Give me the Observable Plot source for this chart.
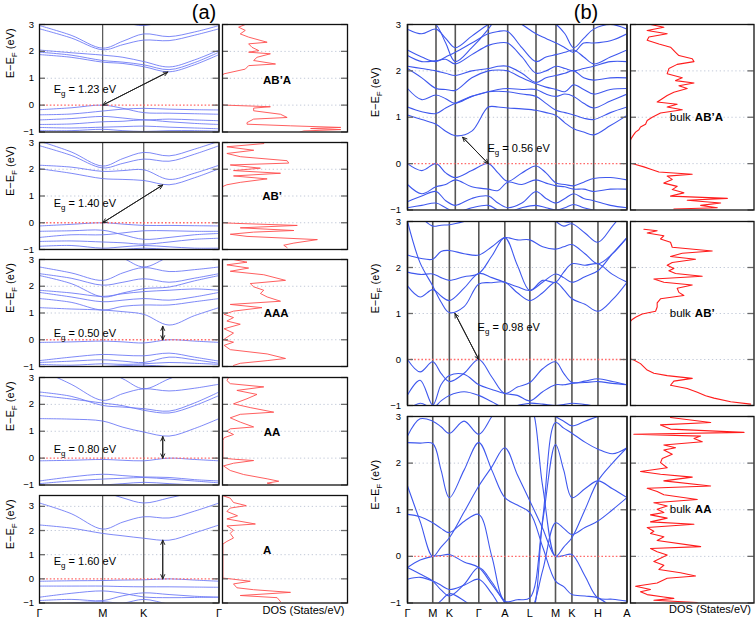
<!DOCTYPE html>
<html><head><meta charset="utf-8">
<script src="https://cdn.jsdelivr.net/npm/d3@7"></script>
<script src="https://cdn.jsdelivr.net/npm/@observablehq/plot@0.6"></script>
<style>
body{margin:0;background:#fff}
#fig{position:relative;width:756px;height:619px;overflow:hidden;background:#fff;font-family:"Liberation Sans",Arial,Helvetica,sans-serif}
#fig svg{position:absolute}
.ttl{position:absolute;font-size:20px;line-height:1;transform:translateX(-50%);color:#000}
</style></head><body><div id="fig"></div>
<script>
// ---------- k-paths ----------
const kA = [0, 0.5, 1, 1.32, 1.65, 2.05, 2.45, 2.84];
const symA = [0, 1, 1.65, 2.84];
const symLabelsA = ["Γ", "M", "K", "Γ"];
const kB1 = [0, 0.143, 0.285, 0.382, 0.478, 0.643, 0.808, 0.905, 1.002, 1.144, 1.285, 1.385, 1.485, 1.574, 1.662, 1.762, 1.862, 2.029, 2.195];
const symB1 = [0, 0.285, 0.478, 0.808, 1.002, 1.285, 1.485, 1.662, 1.862, 2.195];
const kB = [0, 0.126, 0.252, 0.335, 0.418, 0.565, 0.712, 0.842, 0.972, 1.097, 1.222, 1.35, 1.478, 1.56, 1.642, 1.772, 1.902, 2.047, 2.192];
const symB = [0, 0.252, 0.418, 0.712, 0.972, 1.222, 1.478, 1.642, 1.902, 2.192];
const symLabelsB = ["Γ", "M", "K", "Γ", "A", "L", "M", "K", "H", "A"];

// ---------- (a) band energies (eV) at kA ----------
const bandsA1 = [
  [2.96, 2.6, 2.12, 2.38, 2.65, 2.55, 2.72, 2.96],
  [2.84, 2.5, 2.06, 2.25, 2.42, 2.4, 2.6, 2.84],
  [2.05, 1.95, 1.86, 1.78, 1.62, 1.42, 1.68, 2.05],
  [1.97, 1.86, 1.66, 1.6, 1.5, 1.32, 1.58, 1.97],
  [1.88, 1.78, 1.6, 1.55, 1.43, 1.24, 1.5, 1.88],
  [3.5, 3.4, 3.3, 3.1, 2.96, 3.2, 3.4, 3.5],
  [-0.17, -0.1, 0.0, -0.12, -0.28, -0.3, -0.32, -0.34],
  [-0.36, -0.33, -0.22, -0.15, -0.12, -0.15, -0.17, -0.18],
  [-0.55, -0.5, -0.42, -0.48, -0.55, -0.52, -0.55, -0.58],
  [-0.72, -0.7, -0.62, -0.6, -0.55, -0.62, -0.68, -0.72],
  [-0.83, -0.85, -0.82, -0.8, -0.78, -0.82, -0.85, -0.88],
  [-0.95, -0.95, -0.9, -0.95, -0.98, -0.95, -0.95, -0.97]
];
const bandsA2 = [
  [3.05, 2.65, 2.12, 2.4, 2.63, 2.5, 2.75, 3.05],
  [2.88, 2.52, 2.05, 2.22, 2.38, 2.3, 2.56, 2.88],
  [2.15, 2.08, 1.92, 1.95, 1.98, 1.62, 1.85, 2.15],
  [2.02, 1.85, 1.65, 1.62, 1.58, 1.42, 1.68, 2.02],
  [-0.12, -0.06, 0.0, -0.05, -0.1, -0.1, -0.11, -0.12],
  [-0.32, -0.3, -0.28, -0.45, -0.62, -0.55, -0.45, -0.4],
  [-0.55, -0.45, -0.45, -0.38, -0.3, -0.3, -0.32, -0.32],
  [-0.7, -0.68, -0.72, -0.75, -0.8, -0.72, -0.62, -0.58],
  [-0.88, -0.85, -0.95, -0.9, -0.85, -0.9, -0.95, -0.95],
  [-1.0, -1.0, -1.05, -1.0, -0.95, -1.0, -1.05, -1.05]
];
const bandsA3 = [
  [2.72, 2.5, 2.22, 2.5, 2.7, 2.55, 2.62, 2.72],
  [2.47, 2.3, 2.04, 2.15, 2.28, 2.15, 2.3, 2.47],
  [2.4, 2.1, 1.6, 1.75, 1.91, 1.97, 2.2, 2.4],
  [1.77, 1.6, 1.42, 1.48, 1.54, 1.48, 1.6, 1.77],
  [1.85, 1.75, 1.62, 1.72, 1.8, 1.85, 1.9, 1.85],
  [1.54, 1.4, 1.11, 1.25, 1.3, 1.3, 1.42, 1.54],
  [1.2, 1.15, 1.11, 1.05, 0.95, 0.55, 0.9, 1.2],
  [3.5, 3.4, 3.3, 3.05, 2.72, 3.1, 3.4, 3.5],
  [-0.1, -0.08, -0.05, -0.08, -0.12, 0.0, -0.05, -0.1],
  [-0.78, -0.65, -0.55, -0.58, -0.6, -0.5, -0.65, -0.8],
  [-0.85, -0.8, -0.75, -0.8, -0.85, -0.65, -0.75, -0.88],
  [-0.92, -0.95, -0.9, -0.92, -0.9, -0.85, -0.88, -0.92],
  [-1.1, -1.05, -1.0, -0.97, -0.95, -1.0, -1.05, -1.1]
];
const bandsA4 = [
  [3.3, 2.75, 2.15, 2.4, 2.58, 2.5, 2.6, 2.75],
  [2.46, 2.3, 1.96, 1.9, 1.84, 1.75, 2.05, 2.46],
  [2.33, 2.2, 2.05, 1.95, 1.78, 1.68, 1.95, 2.33],
  [1.47, 1.45, 1.38, 1.15, 0.97, 0.82, 1.1, 1.47],
  [3.6, 3.5, 3.3, 2.95, 2.58, 2.95, 3.3, 3.6],
  [-0.1, -0.08, -0.05, -0.08, -0.1, 0.0, -0.05, -0.1],
  [-0.85, -0.7, -0.6, -0.65, -0.7, -0.72, -0.8, -0.85],
  [-0.95, -0.85, -0.78, -0.75, -0.72, -0.78, -0.85, -0.92],
  [-1.1, -1.05, -1.0, -0.95, -0.9, -0.95, -1.0, -1.05]
];
const bandsA5 = [
  [3.14, 2.7, 2.06, 2.35, 2.57, 2.52, 2.8, 3.14],
  [2.23, 2.1, 1.88, 1.78, 1.68, 1.6, 1.9, 2.23],
  [3.9, 3.8, 3.6, 3.35, 3.14, 3.35, 3.6, 3.9],
  [-0.1, -0.08, -0.07, -0.05, -0.04, 0.0, -0.05, -0.1],
  [-0.3, -0.3, -0.3, -0.32, -0.33, -0.33, -0.34, -0.35],
  [-0.76, -0.6, -0.5, -0.6, -0.75, -0.78, -0.77, -0.76],
  [-0.9, -0.85, -0.9, -0.7, -0.58, -0.65, -0.72, -0.76],
  [-1.1, -1.0, -0.95, -1.0, -0.85, -1.05, -1.2, -1.2]
];

// ---------- (b) band energies (eV) ----------
const bandsB1 = [
  [1.05, 0.95, 0.85, 0.7, 0.6, 0.7, 1.22, 1.22, 1.2, 1.18, 1.15, 1.1, 1.04, 0.88, 0.75, 0.68, 0.62, 0.82, 1.04],
  [1.22, 1.12, 1.08, 1.2, 1.3, 1.45, 1.55, 1.56, 1.55, 1.5, 1.45, 1.3, 1.15, 1.1, 1.05, 0.98, 0.95, 1.1, 1.22],
  [1.62, 1.38, 1.48, 1.4, 1.3, 1.45, 1.55, 1.6, 1.62, 1.6, 1.6, 1.5, 1.45, 1.5, 1.45, 1.3, 1.2, 1.35, 1.5],
  [2.05, 1.85, 1.62, 1.6, 1.58, 1.85, 2.0, 2.02, 2.0, 1.85, 1.72, 1.65, 1.6, 1.55, 1.7, 1.6, 1.5, 1.6, 1.62],
  [2.1, 2.05, 2.0, 1.95, 1.9, 2.0, 2.05, 2.1, 2.1, 1.95, 1.75, 1.85, 1.9, 1.95, 2.0, 1.85, 1.8, 1.85, 1.85],
  [2.33, 2.2, 2.22, 2.25, 2.15, 2.35, 2.55, 2.6, 2.6, 2.3, 1.95, 2.0, 2.1, 2.05, 2.0, 2.05, 2.1, 2.2, 2.2],
  [2.45, 2.3, 2.2, 2.3, 2.4, 2.6, 2.8, 2.85, 2.85, 2.5, 2.2, 2.3, 2.35, 2.4, 2.45, 2.3, 2.15, 2.3, 2.45],
  [2.9, 2.8, 2.9, 2.7, 2.5, 2.75, 3.0, 3.1, 3.2, 3.0, 2.8, 2.7, 2.6, 2.5, 2.4, 2.6, 2.6, 2.65, 2.8],
  [3.3, 3.2, 3.0, 2.6, 2.2, 2.5, 2.9, 3.2, 3.4, 3.3, 3.2, 3.1, 3.0, 2.8, 2.5, 2.7, 2.9, 3.0, 2.9],
  [0.0, -0.15, 0.0, -0.2, -0.3, -0.15, 0.0, -0.2, -0.38, -0.2, -0.05, -0.2, -0.42, -0.45, -0.48, -0.4, -0.32, -0.3, -0.35],
  [-0.45, -0.65, -0.5, -0.45, -0.35, -0.5, -0.55, -0.58, -0.4, -0.45, -0.35, -0.42, -0.48, -0.5, -0.55, -0.55, -0.6, -0.55, -0.55],
  [-0.82, -0.7, -0.6, -0.8, -0.9, -0.75, -0.7, -0.85, -0.95, -0.85, -0.6, -0.75, -0.85, -0.75, -0.65, -0.75, -0.8, -0.9, -0.95],
  [-0.95, -0.9, -0.85, -0.95, -1.05, -0.95, -0.9, -1.0, -1.05, -0.95, -0.9, -0.95, -1.0, -0.95, -0.88, -0.95, -1.0, -1.05, -1.05]
];
const bandsB2 = [
  [3.0, 2.1, 1.6, 1.25, 1.02, 1.15, 1.64, 1.67, 1.68, 1.45, 1.28, 1.45, 1.68, 1.52, 1.32, 1.2, 1.05, 1.3, 1.68],
  [1.6, 1.36, 1.52, 1.38, 1.28, 1.55, 1.87, 1.78, 1.68, 1.58, 1.5, 1.68, 1.86, 1.78, 1.68, 1.8, 1.93, 2.3, 2.65],
  [1.9, 1.85, 1.86, 1.78, 1.72, 1.8, 1.87, 2.25, 2.65, 2.05, 1.5, 1.72, 1.68, 1.9, 2.08, 2.05, 2.08, 1.85, 1.68],
  [2.27, 2.2, 2.18, 2.35, 2.37, 2.3, 2.27, 2.45, 2.65, 2.6, 2.6, 2.45, 2.4, 2.45, 2.5, 2.3, 2.08, 2.3, 2.65],
  [3.3, 3.1, 2.9, 2.92, 2.93, 3.0, 3.1, 3.3, 3.5, 3.4, 3.3, 3.1, 3.0, 2.9, 2.95, 2.75, 2.55, 2.9, 3.3],
  [3.6, 3.4, 3.2, 3.1, 3.0, 3.2, 3.5, 3.6, 3.7, 3.6, 3.5, 3.3, 3.1, 3.0, 3.0, 3.2, 3.4, 3.5, 3.6],
  [0.0, -0.27, -0.05, -0.3, -0.48, -0.3, 0.0, -0.38, -0.74, -0.6, -0.5, -0.2, -0.05, -0.3, -0.5, -0.47, -0.42, -0.48, -0.55],
  [-0.77, -0.45, -0.99, -0.55, -0.35, -0.32, -0.55, -0.65, -0.74, -0.78, -0.9, -0.7, -0.55, -0.55, -0.52, -0.5, -0.48, -0.52, -0.55],
  [-1.1, -0.95, -1.05, -0.9, -0.78, -0.7, -0.78, -0.92, -1.05, -1.0, -0.95, -0.97, -1.0, -0.98, -0.95, -0.98, -1.02, -1.05, -1.1]
];
const bandsB3 = [
  [2.58, 2.95, 2.9, 2.78, 2.64, 2.9, 2.62, 3.0, 3.4, 3.4, 3.4, 3.2, 3.0, 2.9, 2.8, 2.9, 3.0, 3.1, 3.2],
  [2.44, 2.43, 2.42, 1.85, 1.26, 1.85, 2.44, 1.85, 1.26, 1.1, 0.94, 0.2, -0.53, -0.65, -0.82, -0.85, -0.89, -1.1, -1.3],
  [1.51, 0.75, 0.0, 0.2, 0.4, 0.95, 1.51, 1.92, 2.33, 1.75, 1.19, 0.6, 0.0, 0.02, 0.04, -0.42, -0.89, -0.92, -0.96],
  [0.9, 0.85, 0.72, 0.6, 0.51, 0.75, 0.9, 0.0, -0.96, -0.93, -0.89, 0.75, 2.4, 1.85, 1.26, 1.45, 1.62, 1.45, 1.26],
  [-0.24, -0.08, 0.0, 0.02, 0.04, -0.12, -0.24, -0.6, -0.96, -1.15, -1.3, 0.8, 2.87, 2.75, 2.64, 2.45, 2.3, 2.2, 2.33],
  [-0.49, -0.45, -0.53, -0.62, -0.71, -0.62, -0.49, -0.8, -1.2, -1.3, -1.4, -1.4, -1.3, -1.3, -1.3, -1.3, -1.3, -1.3, -1.3],
  [-0.24, -0.38, -0.53, -0.72, -0.85, -0.6, -0.24, -0.55, -1.0, -1.3, -1.4, -1.4, -1.4, -1.4, -1.4, -1.4, -1.4, -1.4, -1.4],
  [-1.4, -1.4, -1.3, -1.2, -1.1, -1.2, -1.4, -1.4, -1.4, -1.3, -1.2, -0.3, 0.72, 0.6, 0.47, 0.62, 0.76, 1.0, 1.26],
  [3.6, 3.6, 3.6, 3.6, 3.6, 3.6, 3.6, 3.6, 3.6, 3.5, 3.3, 1.5, 0.0, 0.2, 0.4, 1.0, 1.62, 2.0, 2.33],
  [-1.4, -1.2, -1.1, -0.95, -0.8, -0.95, -1.2, -1.4, -1.5, -1.5, -1.5, -1.4, -1.3, -1.2, -1.1, -1.2, -1.3, -1.4, -1.5]
];

// ---------- DOS curves: energy (eV) and DOS (arb., 0–10 across panel) ----------
const dosEA1 = [3.0, 2.9, 2.78, 2.65, 2.53, 2.34, 2.28, 2.15, 2.03, 1.97, 1.91, 1.78, 1.66, 1.53, 1.47, 1.34, 1.16, 1.1, 0.02, 0.0, -0.06, -0.11, -0.21, -0.34, -0.46, -0.52, -0.65, -0.71, -0.77, -0.83, -0.87, -0.91, -0.96, -1.0];
const dosA1 = [1.82, 1.29, 1.82, 1.42, 2.09, 3.57, 2.09, 2.36, 2.9, 2.09, 3.83, 2.76, 2.49, 4.24, 2.09, 1.82, 0.08, 0, 0, 0.2, 3.83, 2.49, 2.49, 4.64, 5.17, 2.49, 1.96, 1.96, 5.44, 9.46, 7.05, 9.46, 6.51, 6.2];
const dosEA2 = [2.96, 2.84, 2.71, 2.59, 2.47, 2.32, 2.23, 2.16, 2.04, 1.95, 1.85, 1.75, 1.64, 1.51, 1.42, 1.35, 0.0, -0.02, -0.1, -0.19, -0.29, -0.35, -0.43, -0.51, -0.63, -0.76, -0.84, -0.93];
const dosA2 = [3.3, 0.35, 2.5, 0.35, 1.42, 5.17, 5.3, 0.62, 3.03, 0.88, 4.64, 0.88, 3.57, 1.42, 0.35, 0, 0, 0.88, 5.98, 1.42, 5.71, 2.49, 0.62, 1.96, 7.59, 5.71, 4.9, 5.17];
const dosEA3 = [3.0, 2.9, 2.8, 2.68, 2.56, 2.43, 2.22, 2.1, 1.98, 1.85, 1.73, 1.6, 1.44, 1.32, 1.2, 1.07, 0.95, 0.83, 0.7, 0.58, 0.41, 0.25, 0.09, 0.0, -0.09, -0.21, -0.37, -0.53, -0.7, -0.78, -0.88, -0.96];
const dosA3 = [0.88, 1.96, 0.35, 2.09, 0.62, 3.3, 5.04, 2.22, 2.49, 3.3, 3.03, 3.57, 4.64, 0.62, 3.16, 0.88, 0.13, 0.88, 0.35, 1.42, 0.13, 0.88, 0.35, 0.08, 0.88, 0.13, 0.62, 3.57, 5.04, 3.57, 1.42, 0.88];
const dosEA4 = [3.0, 2.89, 2.77, 2.65, 2.52, 2.37, 2.21, 2.02, 1.88, 1.71, 1.63, 1.5, 1.34, 1.16, 1.09, 1.0, 0.88, 0.76, 0.66, 0.0, -0.04, -0.09, -0.19, -0.29, -0.46, -0.61, -0.77, -0.86, -0.93, -0.99];
const dosA4 = [0.5, 0.35, 0.62, 3.3, 1.15, 2.76, 1.96, 0.88, 2.22, 4.1, 1.42, 0.62, 1.42, 2.49, 0.62, 0.35, 0.88, 0.13, 0.03, 0.03, 0.88, 2.49, 0.88, 0.08, 0.62, 1.69, 3.57, 4.5, 3.57, 4.1];
const dosEA5 = [3.44, 3.34, 3.16, 3.03, 2.93, 2.79, 2.61, 2.48, 2.27, 2.19, 2.02, 1.88, 1.69, 1.55, 1.44, 0.03, 0.0, -0.1, -0.21, -0.37, -0.45, -0.56, -0.69, -0.78, -0.94, -1.0];
const dosA5 = [0.03, 0.62, 0.88, 1.9, 0.62, 0.35, 1.2, 0.35, 2.63, 0.35, 0.88, 0.62, 0.88, 0.35, 0.03, 0.03, 0.62, 2.22, 0.88, 1.15, 2.49, 5.44, 1.42, 4.37, 4.64, 4.5];
const dosEB1 = [3.0, 2.94, 2.87, 2.8, 2.73, 2.66, 2.58, 2.51, 2.4, 2.33, 2.26, 2.2, 2.14, 2.05, 1.94, 1.85, 1.79, 1.74, 1.68, 1.62, 1.54, 1.47, 1.4, 1.33, 1.28, 1.22, 1.16, 1.09, 1.0, 0.93, 0.85, 0.79, 0.73, 0.68, 0.61, 0.54, 0.5, 0.01, -0.01, -0.07, -0.13, -0.18, -0.23, -0.27, -0.34, -0.42, -0.49, -0.56, -0.63, -0.7, -0.75, -0.79, -0.85, -0.9, -0.95, -0.98];
const dosB1 = [1.62, 2.7, 1.35, 2.97, 1.49, 1.35, 2.3, 3.24, 3.65, 3.92, 5.0, 5.14, 3.78, 3.11, 2.97, 4.19, 3.65, 5.14, 3.92, 4.59, 3.51, 2.97, 2.57, 2.16, 3.78, 2.97, 4.19, 2.43, 1.76, 1.35, 1.22, 0.81, 0.68, 0.41, 0.22, 0.05, 0, 0, 0.27, 1.08, 1.76, 2.3, 5.0, 2.97, 3.38, 2.7, 3.78, 3.38, 4.32, 3.24, 7.84, 4.59, 7.3, 5.68, 7.03, 3.51];
const dosEB2 = [2.83, 2.8, 2.75, 2.69, 2.62, 2.55, 2.44, 2.36, 2.31, 2.24, 2.18, 2.11, 2.05, 1.98, 1.93, 1.87, 1.81, 1.75, 1.68, 1.62, 1.55, 1.46, 1.39, 1.32, 1.23, 1.14, 1.05, 0.99, 0.92, 0.87, 0.83, 0.01, -0.01, -0.09, -0.16, -0.23, -0.3, -0.35, -0.41, -0.47, -0.56, -0.63, -0.71, -0.79, -0.84, -0.92, -0.97];
const dosB2 = [1.08, 2.16, 1.35, 2.7, 2.43, 3.24, 3.38, 6.62, 4.19, 3.24, 5.27, 3.38, 2.97, 3.51, 3.11, 3.65, 5.81, 1.89, 2.7, 5.0, 3.78, 3.92, 4.32, 2.43, 2.16, 2.16, 2.03, 0.95, 0.41, 0.14, 0, 0, 0.27, 0.81, 1.08, 1.35, 1.89, 2.97, 5.0, 3.51, 3.24, 4.59, 5.41, 6.08, 6.76, 8.11, 9.73];
const dosEB3 = [2.98, 2.87, 2.82, 2.73, 2.66, 2.62, 2.58, 2.53, 2.46, 2.39, 2.33, 2.28, 2.19, 2.1, 2.01, 1.9, 1.82, 1.76, 1.7, 1.62, 1.51, 1.46, 1.39, 1.32, 1.22, 1.15, 1.08, 1.01, 0.94, 0.89, 0.82, 0.74, 0.69, 0.62, 0.54, 0.49, 0.42, 0.34, 0.21, 0.17, 0.1, 0.03, -0.04, -0.11, -0.19, -0.28, -0.35, -0.42, -0.47, -0.57, -0.64, -0.71, -0.76, -0.82, -0.87, -0.9, -0.94, -0.99];
const dosB3 = [3.24, 6.49, 2.43, 3.24, 9.19, 0.27, 5.68, 5.14, 5.81, 2.7, 3.65, 2.7, 3.38, 2.57, 2.43, 2.97, 0.81, 2.43, 5.0, 2.7, 6.49, 1.35, 2.16, 2.7, 5.41, 1.89, 2.97, 2.16, 2.7, 1.62, 2.97, 1.62, 5.14, 1.35, 1.89, 1.62, 2.7, 2.16, 5.68, 1.62, 2.16, 2.97, 2.43, 1.89, 2.7, 2.3, 4.05, 5.27, 2.97, 2.16, 0.41, 1.62, 0.81, 1.35, 2.7, 3.51, 1.89, 5.41];

// ---------- labels and gap annotations ----------
const stackA = ["AB’A", "AB’", "AAA", "AA", "A"];
const stackB = ["AB’A", "AB’", "AA"];
const gapA = [
  {text: "E_g = 1.23 eV", tx: 0.225, ty: 0.6, x1: 1, y1: 0, x2: 2.03, y2: 1.23},
  {text: "E_g = 1.40 eV", tx: 0.225, ty: 0.73, x1: 1, y1: 0, x2: 1.95, y2: 1.41},
  {text: "E_g = 0.50 eV", tx: 0.225, ty: 0.25, x1: 1.95, y1: 0, x2: 1.95, y2: 0.5},
  {text: "E_g = 0.80 eV", tx: 0.225, ty: 0.31, x1: 1.95, y1: 0, x2: 1.95, y2: 0.8},
  {text: "E_g = 1.60 eV", tx: 0.225, ty: 0.72, x1: 1.95, y1: 0, x2: 1.95, y2: 1.6}
];
const gapB = [
  {text: "E_g = 0.56 eV", tx: 0.8, ty: 0.32, x1: 0.808, y1: 0, x2: 0.551, y2: 0.57},
  {text: "E_g = 0.98 eV", tx: 0.7, ty: 0.69, x1: 0.712, y1: 0, x2: 0.474, y2: 1.0},
  null
];
const labelPosA = [[4.37, 0.91], [3.97, 0.99], [4.29, 0.98], [3.97, 0.97], [3.57, 1.2]];

// ---------- layout (pixels) ----------
const colA = {bandLeft: 38.5, bandW: 179.5, dosLeft: 222, dosW: 125, labelDx: -29.5, pad: 5.5};
const colB = {bandLeft: 406.5, bandW: 219.5, dosLeft: 630, dosW: 123.5, labelDx: -32.5, pad: 6.5};
const rowsA = [{top: 24, h: 107.5}, {top: 142, h: 107}, {top: 259, h: 107}, {top: 377, h: 107.5}, {top: 495, h: 107.5}];
const rowsB = [{top: 24, h: 185.5}, {top: 220.5, h: 184}, {top: 415.5, h: 186.5}];

const FONT = '"Liberation Sans", Arial, Helvetica, sans-serif';
const fig = document.getElementById("fig");
const NS = "http://www.w3.org/2000/svg";

const minusFmt = d => d < 0 ? "\u2212" + Math.abs(d) : String(d);
const tidy = (ks, bands) => bands.flatMap((b, i) => b.map((E, j) => ({k: ks[j], E, band: i})));
const zipDos = (Es, Ds) => Es.map((E, i) => ({E, d: Ds[i]}));

function subscripts(svg) {
  for (const t of svg.querySelectorAll("text")) {
    const s = t.textContent;
    if (!s.includes("_")) continue;
    const parts = s.split(/_(.)/);
    t.textContent = "";
    parts.forEach((p, i) => {
      if (p === "") return;
      const ts = document.createElementNS(NS, "tspan");
      ts.textContent = p;
      if (i % 2 === 1) { ts.setAttribute("dy", "3"); ts.setAttribute("font-size", "8"); }
      else if (i > 0) ts.setAttribute("dy", "-3");
      t.appendChild(ts);
    });
  }
}

function place(svg, left, top) {
  svg.style.left = left + "px";
  svg.style.top = top + "px";
  subscripts(svg);
  fig.appendChild(svg);
}

function bandPanel(col, row, o) {
  const mL = 42, mT = 3, mR = 3, mB = o.bottom ? 22 : 3;
  const marks = [
    Plot.ruleY(o.grid, {stroke: "#c2c9d8", strokeDasharray: "1.3,2.6", strokeWidth: 1}),
    Plot.ruleX(o.sym, {stroke: o.vColor, strokeWidth: o.vWidth}),
    Plot.line(tidy(o.ks, o.bands), {x: "k", y: "E", z: "band", curve: "catmull-rom", stroke: o.color, strokeWidth: o.lw, clip: true}),
    Plot.ruleY([0], {stroke: "#ff6a6a", strokeDasharray: "1.6,2", strokeWidth: 1.4}),
    Plot.tickY(o.yTicks, {stroke: "#6a6a6a", strokeWidth: 1.3, insetRight: col.bandW - 6}),
    Plot.tickY(o.yTicks, {stroke: "#6a6a6a", strokeWidth: 1.3, insetLeft: col.bandW - 6}),
    Plot.frame({stroke: "#111", strokeWidth: 1.3}),
    Plot.text(["E\u2212E_F (eV)"], {frameAnchor: "left", rotate: -90, dx: col.labelDx, fontSize: 11})
  ];
  if (o.gap) {
    const g = o.gap;
    const arrows = [g, {x1: g.x2, y1: g.y2, x2: g.x1, y2: g.y1}];
    marks.push(Plot.arrow(arrows, {x1: "x1", y1: "y1", x2: "x2", y2: "y2", stroke: "#222", strokeWidth: 1, headLength: 7, headAngle: 50}));
    marks.push(Plot.text([g], {x: "tx", y: "ty", text: "text", textAnchor: "start", fontSize: 11, fill: "#000"}));
  }
  const svg = Plot.plot({
    width: mL + col.bandW + mR, height: mT + row.h + mB,
    marginLeft: mL, marginTop: mT, marginRight: mR, marginBottom: mB,
    style: {background: "transparent", fontFamily: FONT, fontSize: "9.5px", overflow: "visible", color: "#000"},
    x: {domain: [o.sym[0], o.sym[o.sym.length - 1]], axis: o.bottom ? "bottom" : null, ticks: o.sym,
        tickFormat: d => o.symLabels[o.sym.indexOf(d)], tickSize: 0, tickPadding: 6, label: null},
    y: {domain: o.yDomain, ticks: o.yTicks, tickFormat: minusFmt, tickSize: 0, tickPadding: col.pad, label: null},
    marks
  });
  if (o.bottom) svg.querySelectorAll("[aria-label='x-axis tick label'] text, g[aria-label='x-axis'] text").forEach(t => t.setAttribute("font-size", "11"));
  place(svg, col.bandLeft - mL, row.top - mT);
}

function dosPanel(col, row, o) {
  const mL = 3, mT = 3, mR = 3, mB = o.bottom ? 22 : 3;
  const marks = [
    Plot.ruleY(o.grid, {stroke: "#c2c9d8", strokeDasharray: "1.3,2.6", strokeWidth: 1}),
    Plot.line(o.dos, {x: "d", y: "E", stroke: o.color, strokeWidth: o.lw, clip: true}),
    Plot.tickY(o.yTicks, {stroke: "#6a6a6a", strokeWidth: 1.3, insetRight: col.dosW - 6}),
    Plot.tickY(o.yTicks, {stroke: "#6a6a6a", strokeWidth: 1.3, insetLeft: col.dosW - 6}),
    Plot.frame({stroke: "#111", strokeWidth: 1.3})
  ];
  if (o.bulk) {
    marks.push(Plot.text(["bulk"], {x: () => o.lx, y: () => o.ly, textAnchor: "end", dx: -2, fontSize: 11.5, fill: "#000"}));
    marks.push(Plot.text([o.label], {x: () => o.lx, y: () => o.ly, textAnchor: "start", dx: 2, fontSize: 11.5, fontWeight: "bold", fill: "#000"}));
  } else {
    marks.push(Plot.text([o.label], {x: () => o.lx, y: () => o.ly, fontSize: 11.5, fontWeight: "bold", fill: "#000"}));
  }
  if (o.bottom) {
    marks.push(Plot.text(["DOS (States/eV)"], {frameAnchor: "bottom-right", textAnchor: "end", dx: -3, dy: o.dosDy, fontSize: 11, fill: "#000"}));
  }
  const svg = Plot.plot({
    width: mL + col.dosW + mR, height: mT + row.h + mB,
    marginLeft: mL, marginTop: mT, marginRight: mR, marginBottom: mB,
    style: {background: "transparent", fontFamily: FONT, fontSize: "10.5px", overflow: "visible", color: "#000"},
    x: {domain: [0, 10], axis: null},
    y: {domain: o.yDomain, axis: null},
    marks
  });
  place(svg, col.dosLeft - mL, row.top - mT);
}

// ---------- column (a) ----------
const bandsAll = [bandsA1, bandsA2, bandsA3, bandsA4, bandsA5];
const dosAllA = [zipDos(dosEA1, dosA1), zipDos(dosEA2, dosA2), zipDos(dosEA3, dosA3), zipDos(dosEA4, dosA4), zipDos(dosEA5, dosA5)];
rowsA.forEach((row, i) => {
  const last = i === rowsA.length - 1;
  const yDomain = last ? [-1, 3.45] : [-1, 3];
  const yTicks = [-1, 0, 1, 2, 3];
  bandPanel(colA, row, {ks: kA, bands: bandsAll[i], sym: symA, symLabels: symLabelsA, yDomain, yTicks,
    grid: last ? [1, 2, 3] : [1, 2], color: "#6f7cf6", lw: 0.9, vColor: "#333", vWidth: 1, gap: gapA[i], bottom: last});
  dosPanel(colA, row, {dos: dosAllA[i], yDomain, yTicks, grid: last ? [0, 1, 2, 3] : [0, 1, 2],
    color: "#ff4d4d", lw: 0.9, label: stackA[i], lx: labelPosA[i][0], ly: labelPosA[i][1], bottom: last, dosDy: 11});
});

// ---------- column (b) ----------
const bandsAllB = [bandsB1, bandsB2, bandsB3];
const ksB = [kB1, kB, kB];
const symsB = [symB1, symB, symB];
const dosAllB = [zipDos(dosEB1, dosB1), zipDos(dosEB2, dosB2), zipDos(dosEB3, dosB3)];
rowsB.forEach((row, i) => {
  const last = i === rowsB.length - 1;
  const yDomain = [-1, 3], yTicks = [-1, 0, 1, 2, 3];
  bandPanel(colB, row, {ks: ksB[i], bands: bandsAllB[i], sym: symsB[i], symLabels: symLabelsB, yDomain, yTicks,
    grid: [1, 2], color: "#3f58ee", lw: 1.1, vColor: "#555", vWidth: 1.6, gap: gapB[i], bottom: last});
  dosPanel(colB, row, {dos: dosAllB[i], yDomain, yTicks, grid: [0, 1, 2],
    color: "#ff1c1c", lw: 1.1, label: stackB[i], bulk: true, lx: 5.05, ly: 1.0, bottom: last, dosDy: 10});
});

// ---------- titles ----------
for (const [txt, x] of [["(a)", 204], ["(b)", 586]]) {
  const d = document.createElement("div");
  d.className = "ttl";
  d.textContent = txt;
  d.style.left = x + "px";
  d.style.top = "2px";
  fig.appendChild(d);
}
</script></body></html>
